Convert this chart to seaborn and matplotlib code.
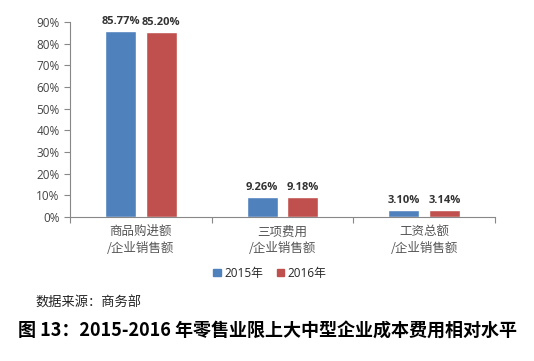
import matplotlib
matplotlib.use("Agg")
import matplotlib.pyplot as plt
import seaborn as sns
import pandas as pd
from matplotlib.patches import Patch
from matplotlib.ticker import FuncFormatter

categories = ["商品购进额\n/企业销售额", "三项费用\n/企业销售额", "工资总额\n/企业销售额"]
years = ["2015年", "2016年"]
values_2015 = [85.77, 9.26, 3.10]
values_2016 = [85.20, 9.18, 3.14]
yticks = [0, 10, 20, 30, 40, 50, 60, 70, 80, 90]
colors = ["#4F81BD", "#C0504D"]

sns.set_style("white")
plt.rcParams['font.family'] = ['Noto Sans CJK SC', 'DejaVu Sans']

df = pd.DataFrame({
    "cat": categories * 2,
    "year": [years[0]] * 3 + [years[1]] * 3,
    "val": values_2015 + values_2016,
})

fig = plt.figure(figsize=(5.34, 3.61), dpi=100)
ax = fig.add_axes([0.131, 0.399, 0.796, 0.540])
sns.barplot(data=df, x="cat", y="val", hue="year", palette=colors,
            width=0.574, gap=0.233, ax=ax, legend=False, saturation=1)

for cont in ax.containers:
    labels = [f"{v:.2f}%" for v in cont.datavalues]
    ax.bar_label(cont, labels=labels, padding=3, fontsize=8, fontweight="bold",
                 color="#333333", family=["Open Sans", "DejaVu Sans"])

ax.set_xlim(-0.5, 2.5)
ax.set_ylim(0, 90)
ax.set_yticks(yticks)
ax.yaxis.set_major_formatter(FuncFormatter(lambda v, p: f"{int(v)}%"))
ax.set_xlabel("")
ax.set_ylabel("")
for lab in ax.get_yticklabels():
    lab.set_family(["Open Sans", "DejaVu Sans"])
for lab in ax.get_xticklabels():
    lab.set_linespacing(1.35)
ax.tick_params(axis="y", labelsize=8.5, colors="#444444", length=4, width=0.8, direction="out", left=True, color="#888888")
ax.tick_params(axis="x", which="major", length=0, labelsize=9, labelcolor="#555555", pad=6)
ax.set_xticks([-0.5, 0.5, 1.5, 2.5], minor=True)
ax.tick_params(axis="x", which="minor", length=4, width=0.8, color="#888888", direction="out", bottom=True)
sns.despine(ax=ax, top=True, right=True)
for s in ["left", "bottom"]:
    ax.spines[s].set_color("#888888")
    ax.spines[s].set_linewidth(0.8)

handles = [Patch(facecolor=c, edgecolor=c) for c in colors]
fig.legend(handles, years, loc="center", bbox_to_anchor=(270 / 534, 1 - 273 / 361),
           ncol=2, frameon=False, handlelength=0.6, handleheight=0.6,
           handletextpad=0.3, columnspacing=1.2,
           prop={"family": ["Open Sans", "Noto Sans CJK SC"], "size": 8.5})

fig.text(35 / 534, 1 - 303 / 361, "数据来源：商务部", fontsize=9.5, va="center", ha="left", color="#222222")
fig.text(18 / 534, 1 - 331 / 361, "图 13：2015-2016 年零售业限上大中型企业成本费用相对水平",
         fontsize=13, fontweight="bold", va="center", ha="left", color="black")

fig.savefig("out.png", dpi=100)
